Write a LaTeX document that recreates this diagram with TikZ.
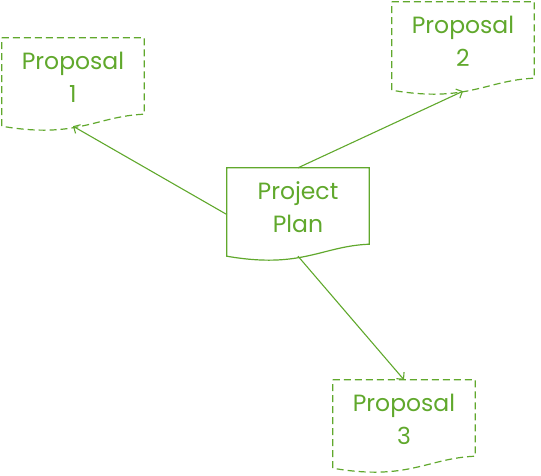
\documentclass[tikz,border=0pt]{standalone}
\usepackage{fontspec}
\setmainfont{Poppins}
\usetikzlibrary{arrows.meta}
\definecolor{plangreen}{RGB}{96,168,44}
% wavy document outline round a named node
\newcommand{\docframe}[2][]{%
  \draw[plangreen,line width=1.2pt,#1] (#2.north west) -- (#2.north east)
    -- ([yshift=17pt]#2.south east)
    .. controls ([xshift=-48pt,yshift=15pt]#2.south east)
       and ([xshift=75pt,yshift=-8pt]#2.south west)
    .. ([yshift=5pt]#2.south west) -- cycle;}

\begin{document}
\begin{tikzpicture}
  [x=1pt,y=-1pt,
   doc/.style={rectangle,inner sep=0pt,align=center,text=plangreen,
               minimum width=142pt,minimum height=93pt,text depth=14pt,
               font=\fontsize{23.5}{33}\selectfont},
   link/.style={plangreen,line width=1.1pt,
                -{Straight Barb[length=5pt,width=10pt]}}]
  \useasboundingbox (0,0) rectangle (541,476);
  \node[doc] (plan) at (298,214.5) {Project\\Plan};
  \node[doc] (prop1) at (73,84.5) {Proposal\\1};
  \node[doc] (prop2) at (463,48.5) {Proposal\\2};
  \node[doc] (prop3) at (404,426.5) {Proposal\\3};
  \docframe{plan}
  \docframe[dash pattern=on 7pt off 4pt]{prop1}
  \docframe[dash pattern=on 7pt off 4pt]{prop2}
  \docframe[dash pattern=on 7pt off 4pt]{prop3}
  \draw[link] (plan.west) to ([yshift=5pt]prop1.south);
  \draw[link] (plan.north) to ([yshift=4pt]prop2.south);
  \draw[link] ([yshift=5pt]plan.south) to (prop3.north);
\end{tikzpicture}
\end{document}
